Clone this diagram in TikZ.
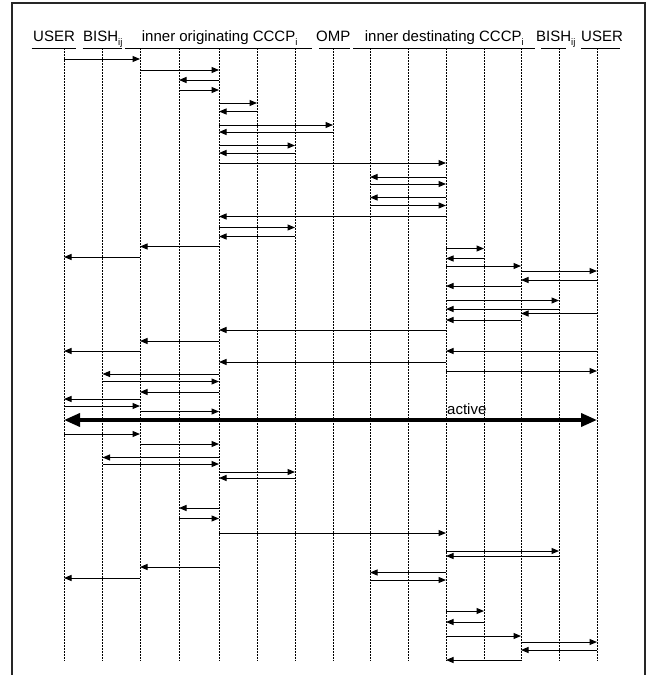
\documentclass[tikz,border=0pt]{standalone}
\usepackage{fontspec}
\setmainfont{Liberation Sans}
\usetikzlibrary{arrows.meta}
\newcommand{\lsub}[1]{\raisebox{-3.5pt}{\fontsize{9.5}{10}\selectfont #1}}
\tikzset{
  life/.style={line width=1pt, black, dash pattern=on 2pt off 1pt},
  msg/.style={line width=1pt, -{Triangle[length=7.5pt,width=6pt]}},
  thick arrow/.style={line width=3.6pt, {Triangle[length=16pt,width=13pt]}-{Triangle[length=16pt,width=13pt]}},
  hdr/.style={anchor=base west, inner sep=0pt, font=\fontsize{15}{18}\selectfont},
  uline/.style={line width=1pt},
  frame/.style={line width=1.2pt, black!85}
}
\newcommand{\msgarrow}[3]{\draw[msg] (t#1 |- 0,#3) -- (t#2 |- 0,#3);}
\begin{document}
\begin{tikzpicture}[x=1pt,y=-1pt]
\useasboundingbox (0,0) rectangle (648,675);
% frame
\coordinate (f1) at (12,675);
\coordinate (f2) at (12,3);
\coordinate (f3) at (645,3);
\coordinate (f4) at (645,675);
\draw[frame] (f1) -- (f2) -- (f3) -- (f4);
% header labels
\node[hdr] (hUser1) at (33,41.7) {USER};
\node[hdr] (hBish1) at (83,41.7) {BISH\lsub{ij}};
\node[hdr] (hOrig) at (141.7,41.7) {inner originating CCCP\lsub{i}};
\node[hdr] (hOmp) at (316,41.7) {OMP};
\node[hdr] (hDest) at (364.7,41.7) {inner destinating CCCP\lsub{i}};
\node[hdr] (hBish2) at (536,41.7) {BISH\lsub{ij}};
\node[hdr] (hUser2) at (581,41.7) {USER};
% underlines
\foreach \n/\a/\b in {1/31.7/76,2/82.7/121.7,3/125/311.7,4/319/349.7,5/353/534.7,6/541/566,7/581/619.7}{
  \coordinate (ua\n) at (\a,48.3);
  \coordinate (ub\n) at (\b,48.3);
  \draw[uline] (ua\n) -- (ub\n);
}
% lifelines
\foreach \i/\x in {0/64,1/102.5,2/140,3/179,4/219,5/257,6/295,7/333,8/370,9/408,10/446,11/484,12/521,13/559,14/597}{
  \coordinate (t\i) at (\x,48.3);
  \coordinate (b\i) at (\x,661);
  \draw[life] (t\i) -- (b\i);
}
% messages
\msgarrow{0}{2}{59}
\msgarrow{2}{4}{70}
\msgarrow{4}{3}{80}
\msgarrow{3}{4}{90}
\msgarrow{4}{5}{103}
\msgarrow{5}{4}{111.5}
\msgarrow{4}{7}{125}
\msgarrow{7}{4}{132}
\msgarrow{4}{6}{145.5}
\msgarrow{6}{4}{153}
\msgarrow{4}{10}{163}
\msgarrow{10}{8}{177}
\msgarrow{8}{10}{184}
\msgarrow{10}{8}{197.5}
\msgarrow{8}{10}{205.5}
\msgarrow{10}{4}{216.5}
\msgarrow{4}{6}{227.5}
\msgarrow{6}{4}{236.5}
\msgarrow{4}{2}{246.5}
\msgarrow{2}{0}{257}
\msgarrow{10}{11}{248.5}
\msgarrow{11}{10}{258.5}
\msgarrow{10}{12}{266}
\msgarrow{12}{14}{271}
\msgarrow{14}{12}{280}
\msgarrow{12}{10}{286}
\msgarrow{10}{13}{300.5}
\msgarrow{13}{10}{309}
\msgarrow{14}{12}{313.5}
\msgarrow{12}{10}{320}
\msgarrow{10}{4}{330}
\msgarrow{4}{2}{341}
\msgarrow{2}{0}{351}
\msgarrow{14}{10}{351}
\msgarrow{10}{4}{362}
\msgarrow{10}{14}{371}
\msgarrow{4}{1}{374}
\msgarrow{1}{4}{381.5}
\msgarrow{4}{2}{392}
\msgarrow{2}{0}{399}
\msgarrow{0}{2}{406}
\msgarrow{2}{4}{411.5}
% active
\draw[thick arrow] (t0 |- 0,420) -- (t14 |- 0,420);
\node[hdr] (active) at (447,414) {active};
\msgarrow{0}{2}{434}
\msgarrow{2}{4}{444}
\msgarrow{4}{1}{457.5}
\msgarrow{1}{4}{464}
\msgarrow{4}{6}{472}
\msgarrow{6}{4}{478}
\msgarrow{4}{3}{508}
\msgarrow{3}{4}{518.5}
\msgarrow{4}{10}{533}
\msgarrow{10}{13}{551}
\msgarrow{13}{10}{556}
\msgarrow{4}{2}{567}
\msgarrow{10}{8}{572.5}
\msgarrow{2}{0}{578}
\msgarrow{8}{10}{580}
\msgarrow{10}{11}{611}
\msgarrow{11}{10}{622}
\msgarrow{10}{12}{636}
\msgarrow{12}{14}{642}
\msgarrow{14}{12}{650}
\msgarrow{12}{10}{660}
\end{tikzpicture}
\end{document}
